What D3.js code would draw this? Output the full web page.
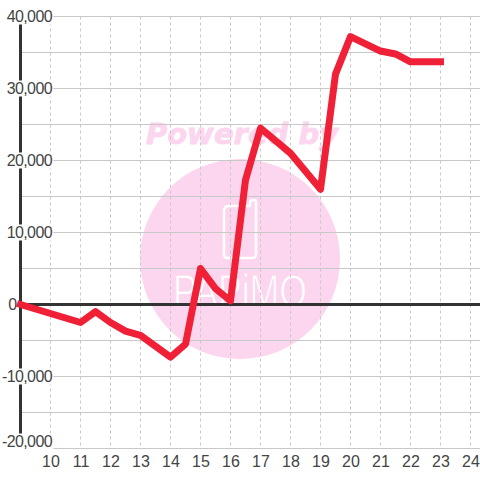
<!DOCTYPE html>
<html>
<head>
<meta charset="utf-8">
<script src="https://cdn.jsdelivr.net/npm/d3@7"></script>
<style>
  html, body { margin: 0; padding: 0; background: #fff; }
  svg { display: block; }
  text { font-family: "Liberation Sans", sans-serif; }
</style>
</head>
<body>
<svg width="480" height="480"></svg>
<script>
var hours = [9, 11, 11.5, 12, 12.5, 13, 14, 14.5, 15, 15.5, 16, 16.5, 17, 18, 19, 19.5, 20, 21, 21.5, 22, 23];
var values = [0, -2500, -1000, -2500, -3700, -4300, -7300, -5500, 5000, 2200, 500, 17300, 24500, 21000, 16000, 32000, 37200, 35200, 34800, 33700, 33700];
var xTicks = [10, 11, 12, 13, 14, 15, 16, 17, 18, 19, 20, 21, 22, 23, 24];
var yLabelled = [40000, 30000, 20000, 10000, 0, -10000, -20000];
var yMinor = [35000, 25000, 15000, 5000, -5000, -15000];

var svg = d3.select("svg");

var x = d3.scaleLinear().domain([9, 25]).range([20.5, 500.5]);
var y = d3.scaleLinear().domain([-20000, 40000]).range([448.5, 16.5]);

// watermark
var mark = svg.append("g");
mark.append("circle").attr("cx", 240).attr("cy", 259).attr("r", 100).attr("fill", "#fcd5ee");
mark.append("text")
  .attr("x", 242).attr("y", 144)
  .attr("text-anchor", "middle")
  .attr("font-size", 29)
  .attr("font-weight", "bold")
  .attr("font-style", "italic")
  .style("font-family", "DejaVu Sans")
  .attr("fill", "#fcd5ee")
  .attr("stroke", "#fcd5ee")
  .attr("stroke-width", 0.8)
  .text("Powered by");
mark.append("path")
  .attr("d", "M229 206H250V203Q250 200 253 200H254Q256 200 256 203V254Q256 258 252 258H228Q224 258 224 254V211Q224 206 229 206Z")
  .attr("fill", "none").attr("stroke", "#fff").attr("stroke-width", 2.5);
mark.append("text")
  .attr("x", 173).attr("y", 307)
  .attr("textLength", 134)
  .attr("lengthAdjust", "spacingAndGlyphs")
  .attr("font-size", 46)
  .style("font-family", "Liberation Sans")
  .attr("fill", "#fff")
  .attr("stroke", "#fcd5ee")
  .attr("stroke-width", 1)
  .text("PAPiMO");

// grid
svg.selectAll(".vgrid").data(xTicks).enter().append("line")
  .attr("class", "vgrid")
  .attr("x1", d => x(d)).attr("x2", d => x(d))
  .attr("y1", y(40000)).attr("y2", y(-20000))
  .attr("stroke", "#c8c8c8").attr("stroke-dasharray", "3,3");
svg.selectAll(".hminor").data(yMinor).enter().append("line")
  .attr("class", "hminor")
  .attr("x1", x(9)).attr("x2", 480)
  .attr("y1", d => y(d)).attr("y2", d => y(d))
  .attr("stroke", "#c8c8c8");
svg.selectAll(".hgrid").data(yLabelled.filter(d => d != 0)).enter().append("line")
  .attr("class", "hgrid")
  .attr("x1", x(9)).attr("x2", 480)
  .attr("y1", d => y(d)).attr("y2", d => y(d))
  .attr("stroke", "#c8c8c8");

// axes
svg.append("line")
  .attr("x1", x(9)).attr("x2", 480)
  .attr("y1", y(0)).attr("y2", y(0))
  .attr("stroke", "#333").attr("stroke-width", 3);
svg.append("line")
  .attr("x1", x(9)).attr("x2", x(9))
  .attr("y1", y(40000)).attr("y2", y(-20000))
  .attr("stroke", "#333").attr("stroke-width", 3);

// data line
var line = d3.line().x((d, i) => x(hours[i])).y(d => y(d));
svg.append("path")
  .datum(values)
  .attr("d", line)
  .attr("fill", "none")
  .attr("stroke", "#f02036")
  .attr("stroke-width", 7)
  .attr("stroke-linecap", "square")
  .attr("stroke-linejoin", "round");

// y labels sit on white blocks that cut the axis and gridlines
// the bottom label is pushed up so it stays clear of the x labels
function labelY(d) { return d == -20000 ? y(d) - 7 : y(d); }
var yLabels = svg.selectAll(".ylabel").data(yLabelled).enter().append("g").attr("class", "ylabel");
yLabels.filter(d => d != 0).append("rect")
  .attr("x", 0).attr("y", d => labelY(d) - 8)
  .attr("width", 53.5).attr("height", 16)
  .attr("fill", "#fff");
yLabels.append("text")
  .attr("x", d => d == 0 ? 16.5 : 52)
  .attr("y", d => labelY(d) + 5.5)
  .attr("text-anchor", "end")
  .attr("font-size", 16)
  .attr("letter-spacing", -0.6)
  .attr("fill", "#444")
  .text(d => d3.format(",")(d).replace("−", "-"));

// x labels
svg.selectAll(".xlabel").data(xTicks).enter().append("text")
  .attr("class", "xlabel")
  .attr("x", d => x(d) + 0.5)
  .attr("y", 467)
  .attr("text-anchor", "middle")
  .attr("font-size", 16)
  .attr("fill", "#444")
  .text(d => d);
</script>
</body>
</html>
